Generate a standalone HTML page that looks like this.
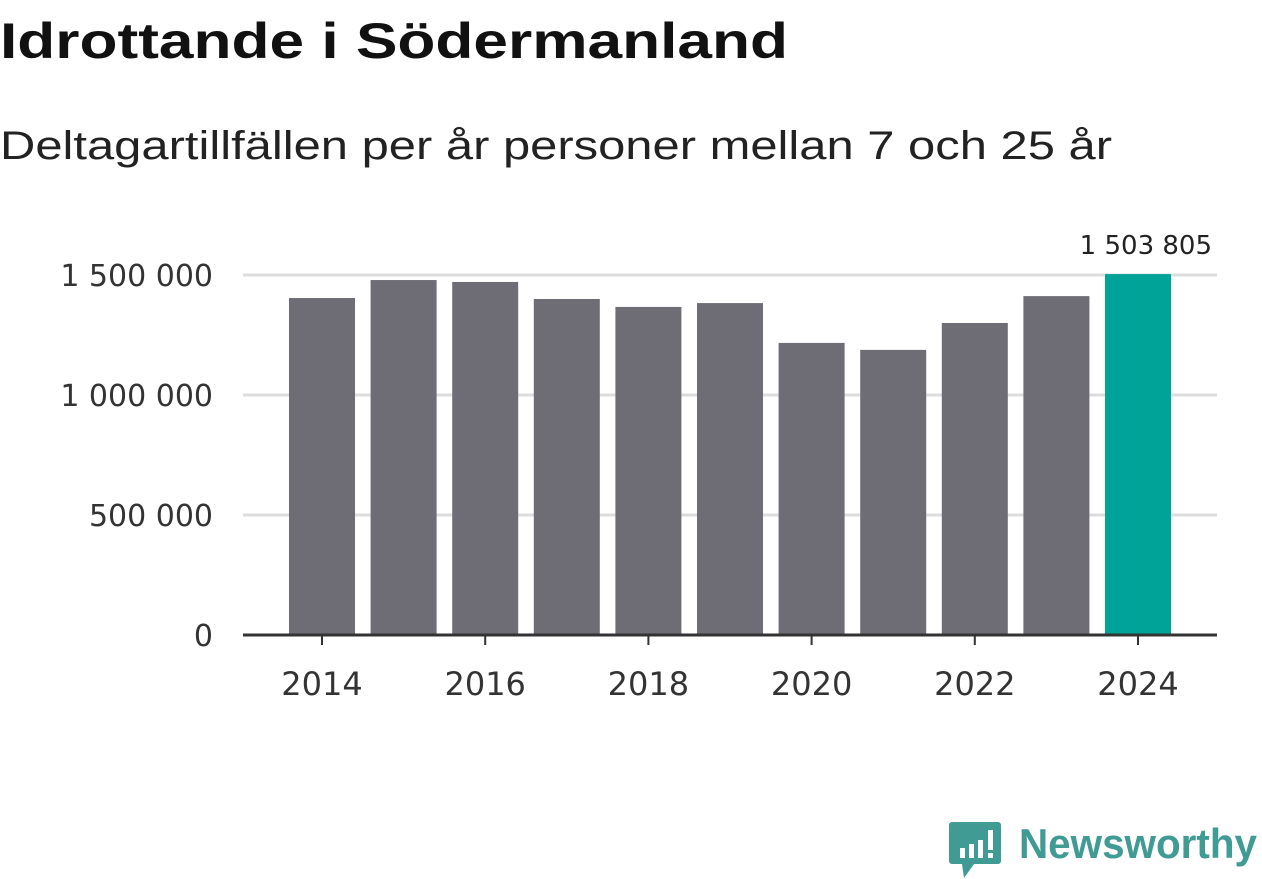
<!DOCTYPE html>
<html><head><meta charset="utf-8"><style>
html,body{margin:0;padding:0;background:#fff;}
svg{display:block;font-family:"Liberation Sans","DejaVu Sans",sans-serif;}
.dv{font-family:"DejaVu Sans","Liberation Sans",sans-serif;}
</style></head><body>
<svg id="chart" width="1262" height="879" viewBox="0 0 1262 879">
<text x="0" y="58" font-size="50" font-weight="bold" fill="#111" textLength="788" lengthAdjust="spacingAndGlyphs">Idrottande i Södermanland</text>
<text x="0" y="159" font-size="40" fill="#222" textLength="1112" lengthAdjust="spacingAndGlyphs">Deltagartillfällen per år personer mellan 7 och 25 år</text>
<g id="grid"></g>
<g id="bars"></g>
<line x1="243" y1="635" x2="1217" y2="635" stroke="#333" stroke-width="3"/>
<g id="xticks"></g>
<g>
<path d="M952 822 h46 a3 3 0 0 1 3 3 v36 a3 3 0 0 1 -3 3 h-24 l-10 14 l-2 -14 h-10 a3 3 0 0 1 -3 -3 v-36 a3 3 0 0 1 3 -3z" fill="#3f9b93"/>
<rect x="960" y="848" width="5" height="10" fill="#fff"/><rect x="969" y="844" width="5" height="14" fill="#fff"/><rect x="978" y="840" width="5" height="18" fill="#fff"/><rect x="988" y="830" width="5" height="20" fill="#fff"/><rect x="988" y="853" width="5" height="5" fill="#fff"/>
<text x="1019" y="858" font-size="42" font-weight="bold" fill="#3f9b93" textLength="238" lengthAdjust="spacingAndGlyphs">Newsworthy</text>
</g>
</svg>
<script>
const years=[2014,2015,2016,2017,2018,2019,2020,2021,2022,2023,2024];
const values=[1404000,1479000,1471000,1400000,1367000,1383000,1217000,1188000,1300000,1412000,1503805];
const yTicks=[0,500000,1000000,1500000];
const yTickLabels=["0","500 000","1 000 000","1 500 000"];
const xTickYears=[2014,2016,2018,2020,2022,2024];
const highlightLabel="1 503 805";
const NS="http://www.w3.org/2000/svg";
const y0=635, pxPerUnit=120/500000;
function yScale(v){return y0-v*pxPerUnit;}
function xScale(yr){return 322+(yr-2014)*81.6;}
const barW=66;
function mk(tag,attrs,parent){const e=document.createElementNS(NS,tag);for(const k in attrs)e.setAttribute(k,attrs[k]);parent.appendChild(e);return e;}
const grid=document.getElementById('grid'),bars=document.getElementById('bars'),xt=document.getElementById('xticks');
yTicks.forEach((t,i)=>{
 if(t>0){const l=mk('line',{x1:243,x2:1217,y1:yScale(t),y2:yScale(t),stroke:'#ddd','stroke-width':3},grid);
 
 }
 const tx=mk('text',{x:213,y:yScale(t)+11,'font-size':30,fill:'#333','text-anchor':'end','class':'dv'},grid);
 tx.textContent=yTickLabels[i];
 
 
});
years.forEach((yr,i)=>{
 const last=i===years.length-1;
 const r=mk('rect',{x:xScale(yr)-barW/2,y:yScale(values[i]),width:barW,height:y0-yScale(values[i]),fill:last?'#00a398':'#6e6d75'},bars);
 
 
 if(last){const t=mk('text',{x:1212,y:yScale(values[i])-20,'font-size':26,fill:'#222','text-anchor':'end','class':'dv'},bars);
 t.textContent=highlightLabel;
 
 }
});
xTickYears.forEach(yr=>{
 const l=mk('line',{x1:xScale(yr),x2:xScale(yr),y1:635,y2:645,stroke:'#333','stroke-width':2},xt);
 
 
 const t=mk('text',{x:xScale(yr),y:695,'font-size':32,fill:'#333','text-anchor':'middle','class':'dv'},xt);
 t.textContent=yr;
 
 
});
</script>
</body></html>
